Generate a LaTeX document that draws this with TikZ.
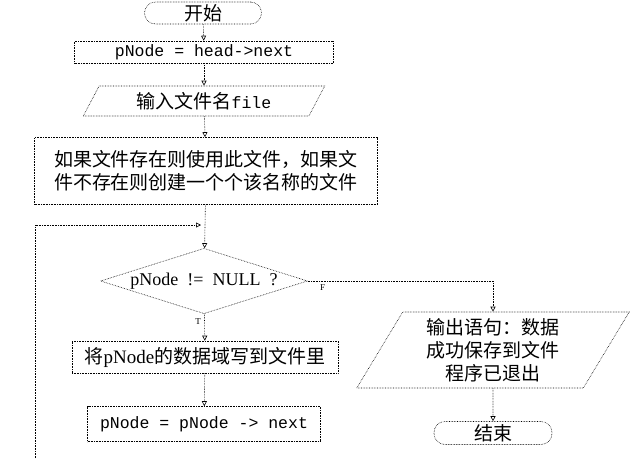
\documentclass[tikz,border=0pt]{standalone}
\usepackage{fontspec}
\setmainfont{Liberation Serif}
\setmonofont{Liberation Mono}
\newfontfamily\cjk{Noto Sans CJK SC}
\usetikzlibrary{shapes.geometric,arrows.meta}

\begin{document}
\begin{tikzpicture}[x=1pt,y=-1pt,
  line/.style={densely dotted,line width=0.6pt},
  flow/.style={line,-{Triangle[open,length=5pt,width=5pt]}},
  box/.style={draw,line,rectangle,inner sep=0pt,align=center},
  term/.style={box,rounded corners=11pt},
  io/.style={draw,line,trapezium,trapezium stretches=true,inner sep=0pt,align=center},
  test/.style={draw,line,diamond,aspect=3,inner sep=0pt},
  every node/.style={font=\cjk\fontsize{19}{23}\selectfont},
  code/.style={font=\ttfamily\fontsize{16.5}{20}\selectfont},
  branch/.style={font=\rmfamily\fontsize{9}{10}\selectfont}]
\useasboundingbox (0,0) rectangle (633,469);
\node[term,minimum width=117,minimum height=22] (start) at (203,13) {开始};
\node[box,code,minimum width=259,minimum height=22] (init) at (204,52) {pNode = head->next};
\node[io,trapezium left angle=60,trapezium right angle=120,minimum width=242,minimum height=30] (input) at (204,101) {输入文件名{\ttfamily\fontsize{16.5}{20}\selectfont file}};
\node[box,minimum width=343,minimum height=67] (open) at (206,171) {如果文件存在则使用此文件，如果文\\件不存在则创建一个个该名称的文件};
\node[test,minimum width=207,minimum height=65] (check) at (204,281) {{\rmfamily\fontsize{18}{20}\selectfont pNode\hspace{0.5em}!=\hspace{0.5em}NULL\hspace{0.5em}?}};
\node[box,minimum width=266,minimum height=32] (write) at (205,357) {将{\rmfamily pNode}的数据域写到文件里};
\node[box,code,minimum width=233,minimum height=35] (move) at (204,424) {pNode = pNode -> next};
\node[io,trapezium left angle=62,trapezium right angle=118,minimum width=273,minimum height=76] (output) at (493,350) {输出语句：数据\\成功保存到文件\\程序已退出};
\node[term,minimum width=118,minimum height=23] (stop) at (493,433) {结束};
\coordinate (back) at (35,458);
\coordinate (join) at (201,225);
\draw[flow] (start) -- (init);
\draw[flow] (init) -- (input);
\draw[flow] (input) -- (open);
\draw[flow] (open) -- (check);
\draw[flow] (back) |- (join);
\draw[flow] (check) -- node[branch,pos=0.3,left] {T} (write);
\draw[flow] (write) -- (move);
\draw[flow] (check.east) -| node[branch,pos=0.04,below] {F} (output);
\draw[flow] (output) -- (stop);
\end{tikzpicture}
\end{document}
